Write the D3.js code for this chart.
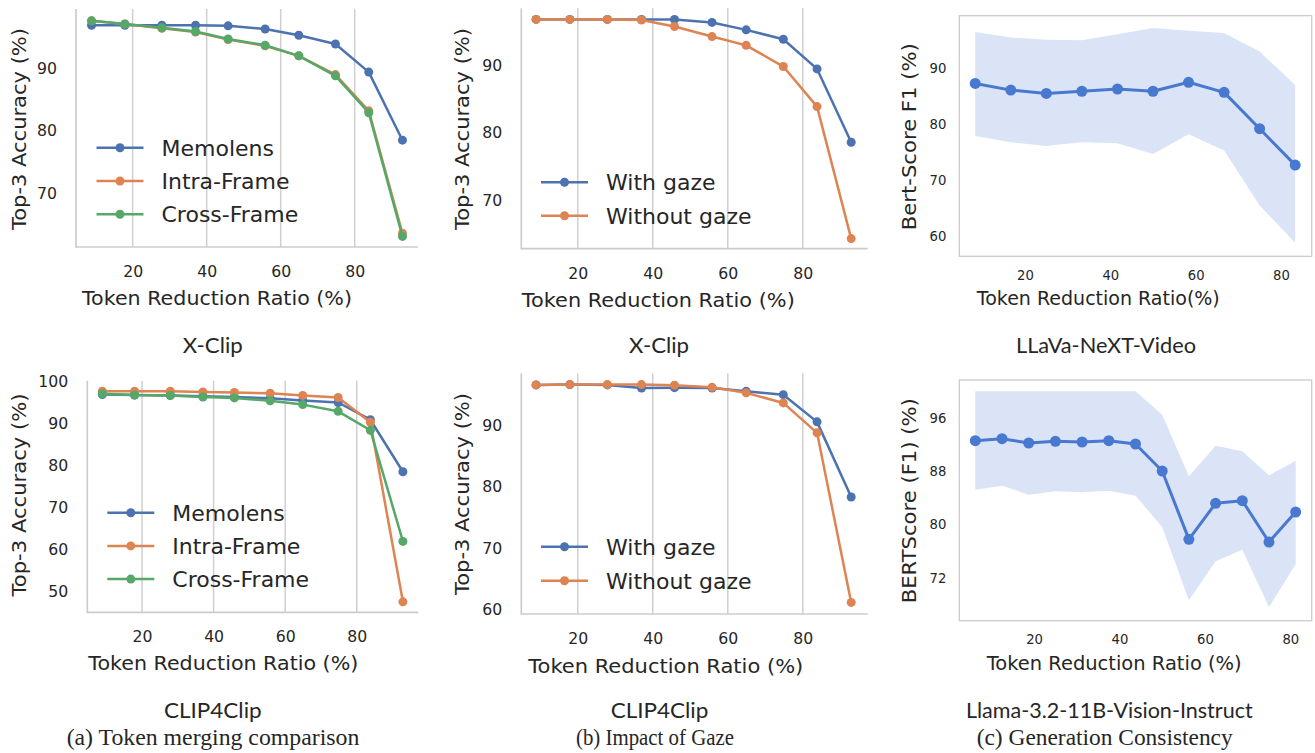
<!DOCTYPE html>
<html>
<head>
<meta charset="utf-8">
<script src="https://cdn.jsdelivr.net/npm/d3@7"></script>
<style>
  body { margin: 0; background: #fff; }
  text { fill: #262626; }
</style>
</head>
<body>
<script>
// token reduction ratios (%) for the retrieval runs (X-Clip / CLIP4Clip)
const tokenRatios = [8.9, 17.9, 27.9, 37.0, 45.8, 55.8, 64.9, 74.8, 83.8, 92.9];
// ratios for the generation runs
const llavaRatios = [8.33, 16.67, 25, 33.33, 41.67, 50, 58.33, 66.67, 75, 83.33];
const llamaRatios = [6.25, 12.5, 18.75, 25, 31.25, 37.5, 43.75, 50, 56.25, 62.5, 68.75, 75, 81.25];

// (a) token merging comparison
const xclipMemolens = [96.9, 96.9, 96.9, 96.9, 96.8, 96.3, 95.3, 93.9, 89.4, 78.5];
const xclipIntra = [97.6, 97.1, 96.4, 95.8, 94.6, 93.6, 92.0, 89.0, 83.2, 63.6];
const xclipCross = [97.6, 97.1, 96.5, 95.9, 94.7, 93.7, 92.0, 88.8, 82.9, 63.1];
const clipMemolens = [97.0, 96.9, 96.8, 96.6, 96.4, 96.1, 95.6, 95.1, 91.0, 78.6];
const clipIntra = [97.8, 97.8, 97.8, 97.6, 97.5, 97.3, 96.8, 96.3, 90.4, 47.6];
const clipCross = [97.2, 96.9, 96.8, 96.4, 96.2, 95.5, 94.6, 93.0, 88.5, 62.0];

// (b) impact of gaze
const xclipWithGaze = [96.85, 96.85, 96.85, 96.85, 96.85, 96.4, 95.3, 93.9, 89.5, 78.6];
const xclipNoGaze = [96.85, 96.85, 96.85, 96.75, 95.8, 94.3, 93.0, 89.85, 83.9, 64.3];
const clipWithGaze = [96.7, 96.75, 96.7, 96.2, 96.25, 96.2, 95.65, 95.1, 90.65, 78.35];
const clipNoGaze = [96.7, 96.75, 96.75, 96.75, 96.65, 96.3, 95.4, 93.75, 88.85, 61.1];

// (c) generation consistency, mean and band
const llavaMean = [87.3, 86.1, 85.5, 85.9, 86.3, 85.9, 87.5, 85.7, 79.2, 72.7];
const llavaUpper = [96.5, 95.5, 95.1, 95.0, 96.1, 97.2, 96.7, 96.3, 93.0, 87.0];
const llavaLower = [77.9, 76.8, 76.1, 76.8, 76.6, 74.7, 78.2, 75.3, 65.5, 58.8];
const llamaMean = [92.6, 92.9, 92.25, 92.5, 92.4, 92.6, 92.1, 88.05, 77.8, 83.2, 83.6, 77.4, 81.9];
const llamaUpper = [100, 100, 100, 100, 100, 100, 100, 96.5, 87.25, 91.85, 91.0, 87.4, 89.6];
const llamaLower = [85.25, 85.85, 84.5, 85.0, 84.85, 85.1, 84.35, 79.65, 68.65, 74.5, 76.25, 67.65, 74.1];

const xTicks = [20, 40, 60, 80];
const blue = "#4c72b0", orange = "#dd8452", green = "#55a868", muted = "#4878d0";
const sans = "DejaVu Sans";

const svg = d3.select("body").append("svg")
  .attr("width", 1315).attr("height", 753);

function drawPanel(p) {
  const x = d3.scaleLinear().domain(p.xDomain).range([p.left, p.right]);
  const y = d3.scaleLinear().domain(p.yDomain).range([p.bottom, p.top]);
  const g = svg.append("g");

  if (p.boxed) {
    g.append("rect")
      .attr("x", p.left).attr("y", p.top)
      .attr("width", p.right - p.left).attr("height", p.bottom - p.top)
      .attr("fill", "none").attr("stroke", "#cccccc").attr("stroke-width", 1.3);
  } else {
    g.selectAll(".grid").data(xTicks).enter().append("line")
      .attr("x1", d => x(d)).attr("x2", d => x(d))
      .attr("y1", p.top).attr("y2", p.bottom)
      .attr("stroke", "#cfcfcf").attr("stroke-width", 1.5);
    g.append("line").attr("x1", p.left).attr("x2", p.left)
      .attr("y1", p.top).attr("y2", p.bottom + 0.8)
      .attr("stroke", "#cccccc").attr("stroke-width", 1.7);
    g.append("line").attr("x1", p.left).attr("x2", p.right)
      .attr("y1", p.bottom).attr("y2", p.bottom)
      .attr("stroke", "#cccccc").attr("stroke-width", 1.7);
  }

  // axes, labels only
  const ax = g.append("g").attr("transform", "translate(0," + p.bottom + ")")
    .call(d3.axisBottom(x).tickValues(xTicks).tickSize(0).tickPadding(p.xPad));
  const ay = g.append("g").attr("transform", "translate(" + p.left + ",0)")
    .call(d3.axisLeft(y).tickValues(p.yTicks).tickSize(0).tickPadding(p.yPad));
  [ax, ay].forEach(a => {
    a.select(".domain").remove();
    a.selectAll("text").attr("font-family", sans).attr("font-size", p.tickSize).attr("fill", "#262626");
  });

  g.append("text")
    .attr("x", (p.left + p.right) / 2 + p.xLabelShift).attr("y", p.xLabelY)
    .attr("text-anchor", "middle").attr("font-family", sans).attr("font-size", p.labelSize)
    .attr("textLength", p.xLabelLen).attr("lengthAdjust", "spacingAndGlyphs")
    .text(p.xLabel);
  g.append("text")
    .attr("transform", "translate(" + p.yLabelX + "," + p.yLabelCY + ") rotate(-90)")
    .attr("text-anchor", "middle").attr("font-family", sans).attr("font-size", p.labelSize)
    .attr("textLength", p.yLabelLen).attr("lengthAdjust", "spacingAndGlyphs")
    .text(p.yLabel);

  if (p.band) {
    const area = d3.area()
      .x((d, i) => x(p.xs[i]))
      .y0((d, i) => y(p.band.lower[i]))
      .y1((d, i) => y(p.band.upper[i]));
    g.append("path").datum(p.band.upper).attr("d", area)
      .attr("fill", muted).attr("fill-opacity", 0.2);
  }

  p.series.forEach(s => {
    const pts = s.values.map((v, i) => [p.xs[i], v]);
    const line = d3.line().x(d => x(d[0])).y(d => y(d[1]));
    g.append("path").datum(pts).attr("d", line)
      .attr("fill", "none").attr("stroke", s.color)
      .attr("stroke-width", p.lineWidth).attr("stroke-linejoin", "round");
    g.selectAll(null).data(pts).enter().append("circle")
      .attr("cx", d => x(d[0])).attr("cy", d => y(d[1]))
      .attr("r", p.markerR).attr("fill", s.color);
  });

  if (p.legend) {
    const lg = p.legend;
    p.series.forEach((s, i) => {
      const cy = lg.y + i * lg.step;
      g.append("line").attr("x1", lg.x).attr("x2", lg.x + 47)
        .attr("y1", cy).attr("y2", cy)
        .attr("stroke", s.color).attr("stroke-width", p.lineWidth);
      g.append("circle").attr("cx", lg.x + 23.5).attr("cy", cy)
        .attr("r", p.markerR).attr("fill", s.color);
      g.append("text").attr("x", lg.x + 65).attr("y", cy).attr("dy", "0.36em")
        .attr("font-family", sans).attr("font-size", 22)
        .text(s.label);
    });
  }
}

const common = {
  tickSize: 15.7, labelSize: 20.3, xPad: 19, yPad: 19,
  lineWidth: 2.5, markerR: 4.5, xLabelShift: 0,
  xLabel: "Token Reduction Ratio (%)", yLabel: "Top-3 Accuracy (%)"
};

// (a) X-Clip
drawPanel(Object.assign({}, common, {
  left: 76, right: 418, top: 9, bottom: 247,
  xDomain: [4.7, 97.1], yDomain: [61.4, 99.5], yTicks: [70, 80, 90],
  xs: tokenRatios,
  series: [
    { values: xclipMemolens, color: blue, label: "Memolens" },
    { values: xclipIntra, color: orange, label: "Intra-Frame" },
    { values: xclipCross, color: green, label: "Cross-Frame" }
  ],
  legend: { x: 96.5, y: 147.7, step: 33.3 },
  xLabelY: 305, xLabelLen: 270, xLabelShift: -30,
  yLabelX: 26, yLabelCY: 129, yLabelLen: 202
}));

// (b) X-Clip
drawPanel(Object.assign({}, common, {
  left: 521.3, right: 867.7, top: 8.3, bottom: 248.7,
  xDomain: [4.96, 97.3], yDomain: [62.8, 98.5], yTicks: [70, 80, 90],
  xs: tokenRatios,
  series: [
    { values: xclipWithGaze, color: blue, label: "With gaze" },
    { values: xclipNoGaze, color: orange, label: "Without gaze" }
  ],
  legend: { x: 541, y: 182.3, step: 33.4 },
  xLabelY: 307.3, xLabelLen: 273, xLabelShift: -36.2,
  yLabelX: 469, yLabelCY: 129, yLabelLen: 202
}));

// (c) LLaVa-NeXT-Video
drawPanel(Object.assign({}, common, {
  boxed: true, tickSize: 13.2, labelSize: 19.5, xPad: 14, yPad: 13,
  lineWidth: 3, markerR: 5.5,
  left: 959.3, right: 1311.7, top: 15.7, bottom: 256.3,
  xDomain: [4.6, 87.2], yDomain: [56.4, 99.4], yTicks: [60, 70, 80, 90],
  xs: llavaRatios,
  band: { upper: llavaUpper, lower: llavaLower },
  series: [{ values: llavaMean, color: muted }],
  xLabel: "Token Reduction Ratio(%)", yLabel: "Bert-Score F1 (%)",
  xLabelY: 305.3, xLabelLen: 243, xLabelShift: 1098.3 - 1135.5,
  yLabelX: 916, yLabelCY: 136.7, yLabelLen: 187
}));

// (a) CLIP4Clip
drawPanel(Object.assign({}, common, {
  left: 87.3, right: 418.3, top: 380.7, bottom: 612.3,
  xDomain: [4.7, 97.2], yDomain: [45.1, 100.3], yTicks: [50, 60, 70, 80, 90, 100],
  xs: tokenRatios,
  series: [
    { values: clipMemolens, color: blue, label: "Memolens" },
    { values: clipIntra, color: orange, label: "Intra-Frame" },
    { values: clipCross, color: green, label: "Cross-Frame" }
  ],
  legend: { x: 107.3, y: 512.7, step: 33.2 },
  xLabelY: 670, xLabelLen: 270, xLabelShift: 223.3 - 252.8,
  yLabelX: 26, yLabelCY: 495, yLabelLen: 203
}));

// (b) CLIP4Clip
drawPanel(Object.assign({}, common, {
  left: 521.3, right: 867.7, top: 373.3, bottom: 614,
  xDomain: [4.96, 97.3], yDomain: [59.2, 98.6], yTicks: [60, 70, 80, 90],
  xs: tokenRatios,
  series: [
    { values: clipWithGaze, color: blue, label: "With gaze" },
    { values: clipNoGaze, color: orange, label: "Without gaze" }
  ],
  legend: { x: 541, y: 546.7, step: 34 },
  xLabelY: 673.3, xLabelLen: 275, xLabelShift: 665.8 - 694.5,
  yLabelX: 469, yLabelCY: 494, yLabelLen: 202
}));

// (c) Llama-3.2-11B-Vision-Instruct
drawPanel(Object.assign({}, common, {
  boxed: true, tickSize: 13.2, labelSize: 19.5, xPad: 14, yPad: 13,
  lineWidth: 3, markerR: 5.5,
  left: 959.3, right: 1311.7, top: 380, bottom: 620.7,
  xDomain: [2.5, 85], yDomain: [65.6, 101.7], yTicks: [72, 80, 88, 96],
  xs: llamaRatios,
  band: { upper: llamaUpper, lower: llamaLower },
  series: [{ values: llamaMean, color: muted }],
  xLabel: "Token Reduction Ratio (%)", yLabel: "BERTScore (F1) (%)",
  xLabelY: 670, xLabelLen: 255, xLabelShift: 1114.2 - 1135.5,
  yLabelX: 916, yLabelCY: 500.8, yLabelLen: 205
}));

// captions under each panel
const modelNames = [
  { text: "X-Clip", cx: 212.7, y: 352.5, len: 60 },
  { text: "X-Clip", cx: 659, y: 352.5, len: 60 },
  { text: "LLaVa-NeXT-Video", cx: 1106, y: 352.5, len: 180 },
  { text: "CLIP4Clip", cx: 212.8, y: 718.3, len: 97.7 },
  { text: "CLIP4Clip", cx: 659.5, y: 718.3, len: 97.7 },
  { text: "Llama-3.2-11B-Vision-Instruct", cx: 1109.3, y: 718.3, len: 286.7 }
];
const subCaptions = [
  { text: "(a) Token merging comparison", cx: 213, y: 745, len: 292.7 },
  { text: "(b) Impact of Gaze", cx: 655, y: 745, len: 158 },
  { text: "(c) Generation Consistency", cx: 1104.7, y: 745, len: 256 }
];

svg.selectAll(".model").data(modelNames).enter().append("text")
  .attr("x", d => d.cx).attr("y", d => d.y)
  .attr("text-anchor", "middle").attr("font-family", "Lato")
  .attr("font-size", 22).attr("fill", "#111")
  .attr("textLength", d => d.len).attr("lengthAdjust", "spacingAndGlyphs")
  .text(d => d.text);

svg.selectAll(".sub").data(subCaptions).enter().append("text")
  .attr("x", d => d.cx).attr("y", d => d.y)
  .attr("text-anchor", "middle").attr("font-family", "Liberation Serif")
  .attr("font-size", 23).attr("fill", "#111")
  .attr("textLength", d => d.len).attr("lengthAdjust", "spacingAndGlyphs")
  .text(d => d.text);
</script>
</body>
</html>
